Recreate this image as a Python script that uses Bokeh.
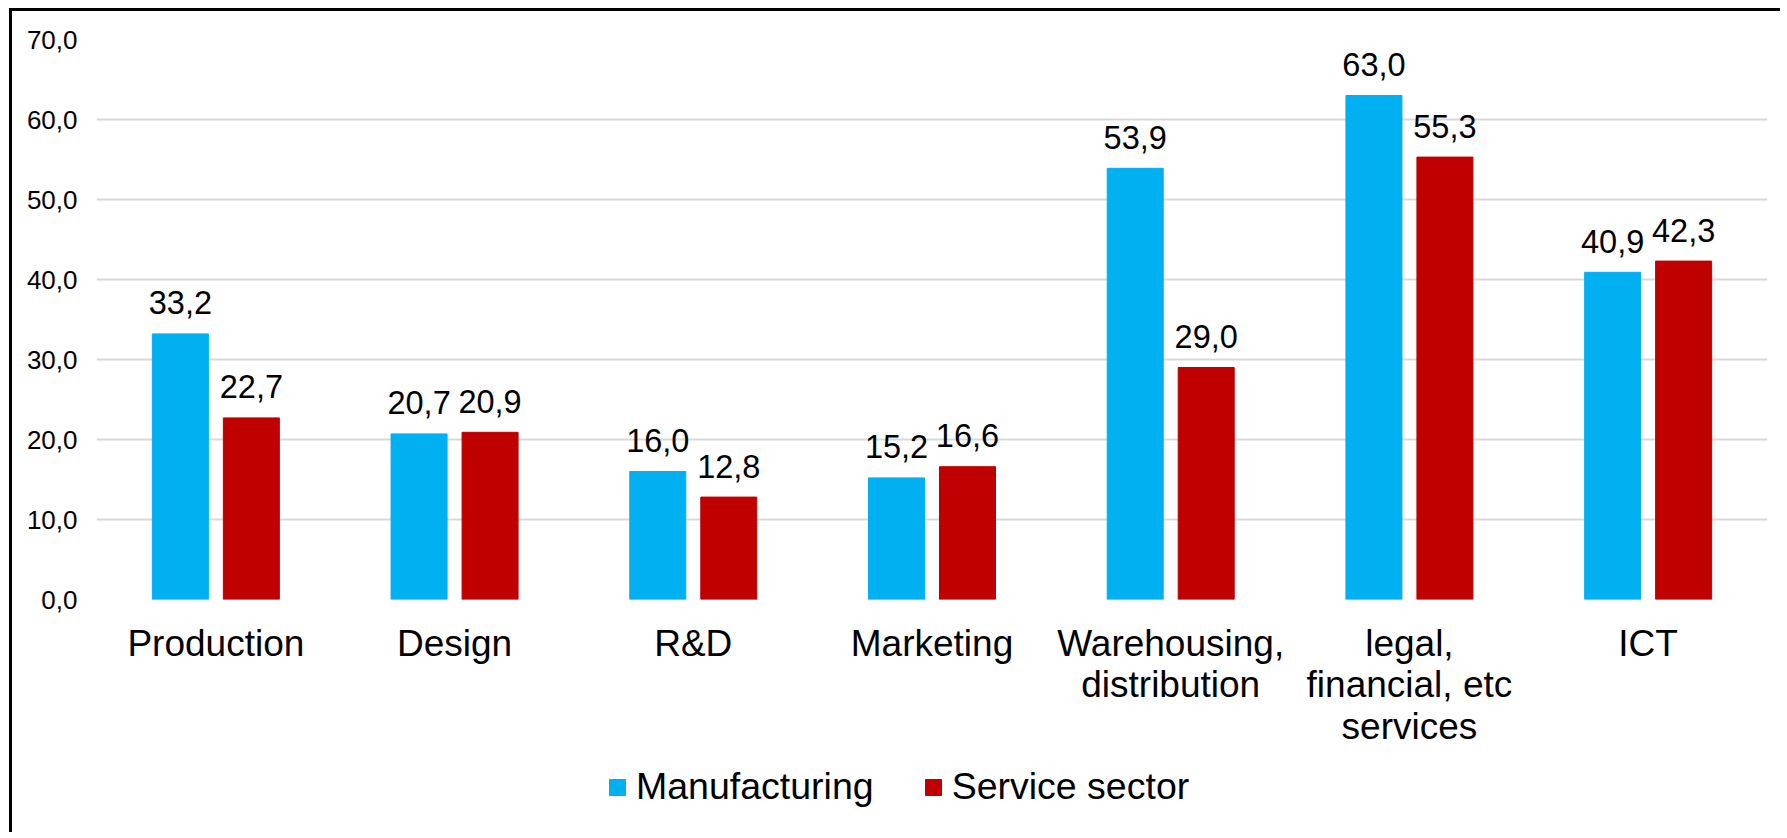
from bokeh.plotting import figure
from bokeh.models import (ColumnDataSource, FixedTicker, Legend, LegendItem,
                          Range1d, InlineStyleSheet)
from bokeh.layouts import column
from bokeh.transform import dodge
from bokeh.core.properties import value
from bokeh.embed import file_html
from bokeh.resources import INLINE

# ---- data ----
categories = ["Production", "Design", "R&D", "Marketing",
              "Warehousing,\ndistribution",
              "legal,\nfinancial, etc\nservices", "ICT"]
manufacturing = [33.2, 20.7, 16.0, 15.2, 53.9, 63.0, 40.9]
service_sector = [22.7, 20.9, 12.8, 16.6, 29.0, 55.3, 42.3]
series_names = ["Manufacturing", "Service sector"]
y_ticks = [0, 10, 20, 30, 40, 50, 60, 70]


def fmt(v):
    return f"{v:.1f}".replace(".", ",")


FONT = "Liberation Sans"
BLUE = "#00B0F0"
RED = "#C00000"

src = ColumnDataSource(dict(
    cat=categories,
    manuf=manufacturing,
    serv=service_sector,
    manuf_lbl=[fmt(v) for v in manufacturing],
    serv_lbl=[fmt(v) for v in service_sector],
))

W = 1780
H_MAIN = 760
H_LEG = 72

p = figure(x_range=categories, y_range=Range1d(0, 70),
           width=W, height=H_MAIN, output_backend="svg",
           toolbar_location=None,
           min_border_left=96, min_border_right=W - 1767,
           min_border_top=39, min_border_bottom=H_MAIN - 599)
p.background_fill_color = "white"
p.border_fill_color = "white"
p.outline_line_color = None

BW = 0.2346
OFF = 0.1487

r1 = p.vbar(x=dodge("cat", -OFF, range=p.x_range), top="manuf", width=BW,
            source=src, fill_color=BLUE, line_color=BLUE)
r2 = p.vbar(x=dodge("cat", OFF, range=p.x_range), top="serv", width=BW,
            source=src, fill_color=RED, line_color=RED)

for col, lbl, off in (("manuf", "manuf_lbl", -OFF), ("serv", "serv_lbl", OFF)):
    p.text(x=dodge("cat", off, range=p.x_range), y=col, text=lbl, source=src,
           text_align="center", text_baseline="alphabetic", y_offset=-31,
           text_font_size="32.5px", text_font=value(FONT), text_color="black")

# axes
p.xaxis.axis_line_color = None
p.xaxis.major_tick_line_color = None
p.xaxis.minor_tick_line_color = None
p.xaxis.major_label_text_font = FONT
p.xaxis.major_label_text_font_size = "37px"
p.xaxis.major_label_text_color = "black"
p.xaxis.major_label_text_line_height = 1.02
p.xaxis.major_label_standoff = 17
p.xaxis.major_label_orientation = "horizontal"

p.yaxis.axis_line_color = None
p.yaxis.major_tick_line_color = None
p.yaxis.minor_tick_line_color = None
p.yaxis.ticker = FixedTicker(ticks=y_ticks)
p.yaxis.major_label_overrides = {t: fmt(t) for t in y_ticks}
p.yaxis.major_label_text_font = FONT
p.yaxis.major_label_text_font_size = "26px"
p.yaxis.major_label_text_color = "black"
p.yaxis.major_label_standoff = 13

p.xgrid.grid_line_color = None
p.ygrid.grid_line_color = "#d9d9d9"
p.ygrid.grid_line_width = 2

# ---- legend strip below the chart ----
lf = figure(width=W, height=H_LEG, output_backend="svg", toolbar_location=None,
            x_range=Range1d(0, 1), y_range=Range1d(0, 1),
            min_border=0, x_axis_type=None, y_axis_type=None)
lf.outline_line_color = None
lf.xgrid.grid_line_color = None
lf.ygrid.grid_line_color = None
proxy = ColumnDataSource(dict(x=[float("nan")], top=[float("nan")]))
g1 = lf.vbar(x="x", top="top", width=0.1, source=proxy,
             fill_color=BLUE, line_color=BLUE)
g2 = lf.vbar(x="x", top="top", width=0.1, source=proxy,
             fill_color=RED, line_color=RED)

legend = Legend(items=[LegendItem(label=series_names[0], renderers=[g1]),
                       LegendItem(label=series_names[1], renderers=[g2])],
                orientation="horizontal", location=(511, 24),
                glyph_width=20, glyph_height=20, label_standoff=9,
                spacing=49, padding=0, margin=0,
                border_line_color=None, background_fill_alpha=0,
                label_text_font=FONT, label_text_font_size="37.5px",
                label_text_color="black")
lf.add_layout(legend)

layout = column(p, lf, spacing=0)

# outer chart border (left and top edges visible, as in the reference)
layout.stylesheets = [InlineStyleSheet(css="""
:host { position: relative; }
:host::after {
  content: ""; position: absolute; left: 9px; top: 8px; right: 0; bottom: 0;
  border-left: 3px solid black; border-top: 3px solid black;
  pointer-events: none;
}
""")]

open("out.html", "w").write(file_html(layout, INLINE))
